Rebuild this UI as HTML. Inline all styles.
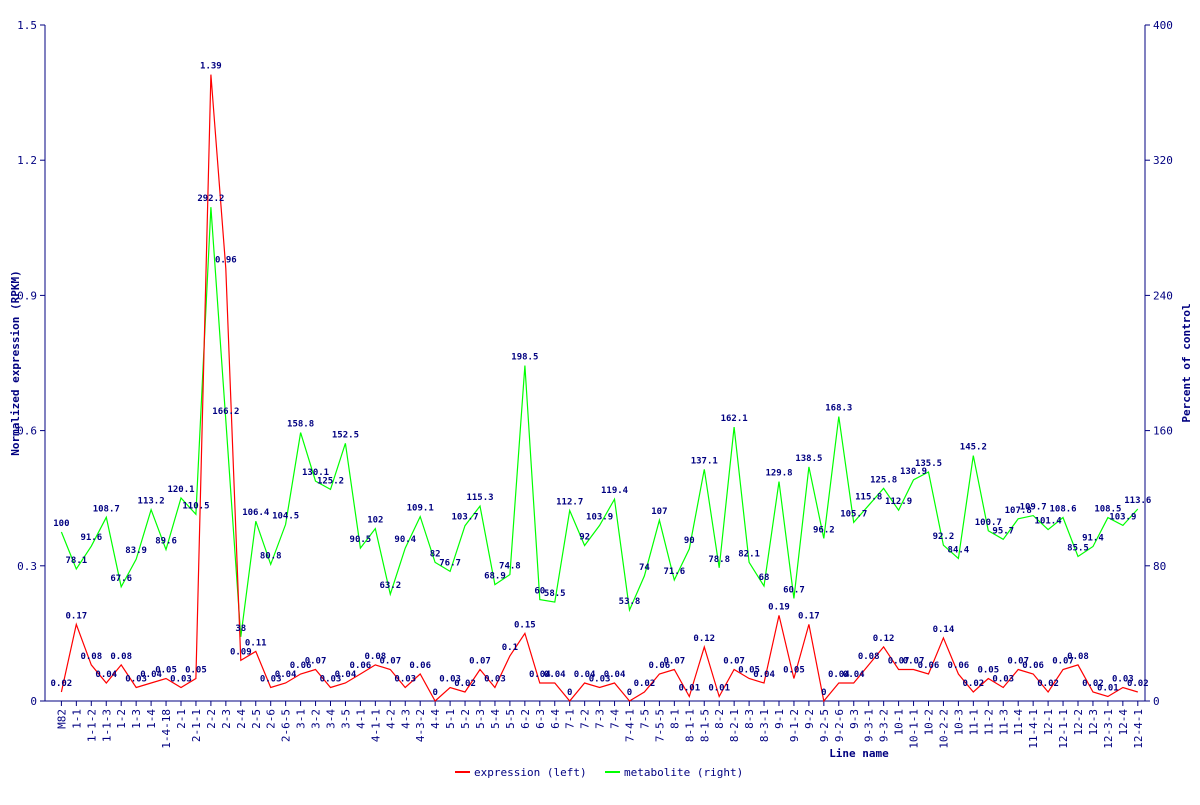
<!DOCTYPE html>
<html><head><meta charset="utf-8"><style>
body{margin:0;background:#fff}
svg text{font-family:"DejaVu Sans Mono","Liberation Mono",monospace;fill:#000080}
</style></head><body>
<svg id="s" width="1200" height="800" xmlns="http://www.w3.org/2000/svg"></svg>
<script>
const L="M82,1-1,1-1-2,1-1-3,1-2,1-3,1-4,1-4-18,2-1,2-1-1,2-2,2-3,2-4,2-5,2-6,2-6-5,3-1,3-2,3-4,3-5,4-1,4-1-1,4-2,4-3,4-3-2,4-4,5-1,5-2,5-3,5-4,5-5,6-2,6-3,6-4,7-1,7-2,7-3,7-4,7-4-1,7-5,7-5-5,8-1,8-1-1,8-1-5,8-2,8-2-1,8-3,8-3-1,9-1,9-1-2,9-2,9-2-5,9-2-6,9-3,9-3-1,9-3-2,10-1,10-1-1,10-2,10-2-2,10-3,11-1,11-2,11-3,11-4,11-4-1,12-1,12-1-1,12-2,12-3,12-3-1,12-4,12-4-1".split(",");
const G=[100,78.1,91.6,108.7,67.6,83.9,113.2,89.6,120.1,110.5,292.2,166.2,38,106.4,80.8,104.5,158.8,130.1,125.2,152.5,90.5,102,63.2,90.4,109.1,82,76.7,103.7,115.3,68.9,74.8,198.5,60,58.5,112.7,92,103.9,119.4,53.8,74,107,71.6,90,137.1,78.8,162.1,82.1,68,129.8,60.7,138.5,96.2,168.3,105.7,115.8,125.8,112.9,130.9,135.5,92.2,84.4,145.2,100.7,95.7,107.8,109.7,101.4,108.6,85.5,91.4,108.5,103.9,113.6];
const R=[0.02,0.17,0.08,0.04,0.08,0.03,0.04,0.05,0.03,0.05,1.39,0.96,0.09,0.11,0.03,0.04,0.06,0.07,0.03,0.04,0.06,0.08,0.07,0.03,0.06,0,0.03,0.02,0.07,0.03,0.1,0.15,0.04,0.04,0,0.04,0.03,0.04,0,0.02,0.06,0.07,0.01,0.12,0.01,0.07,0.05,0.04,0.19,0.05,0.17,0,0.04,0.04,0.08,0.12,0.07,0.07,0.06,0.14,0.06,0.02,0.05,0.03,0.07,0.06,0.02,0.07,0.08,0.02,0.01,0.03,0.02];
const X=i=>61.4+14.95*i, B=701, H=676;
let s='';
const ln=(a,b,c,d,col,w)=>s+=`<line x1="${a}" y1="${b}" x2="${c}" y2="${d}" stroke="${col}" stroke-width="${w||1}"/>`;
ln(45,25,45,B,'#000080');ln(1145,25,1145,B,'#000080');ln(45,B,1145,B,'#000080');
for(let k=0;k<=5;k++){let y=B-k*H/5;ln(40,y,45,y,'#000080');ln(1145,y,1150,y,'#000080');
s+=`<text x="37" y="${y+4}" font-size="11" text-anchor="end">${k==0?'0':(k*0.3).toFixed(1)}</text>`;
s+=`<text x="1153" y="${y+4}" font-size="11">${k*80}</text>`;}
L.forEach((l,i)=>{let x=X(i);ln(x,B,x,B+5,'#000080');
s+=`<text transform="translate(${x+4},${B+8}) rotate(-90)" font-size="11" text-anchor="end">${l}</text>`;});
let pg=G.map((v,i)=>X(i).toFixed(1)+','+(B-v/400*H).toFixed(1)).join(' ');
let pr=R.map((v,i)=>X(i).toFixed(1)+','+(B-v/1.5*H).toFixed(1)).join(' ');
s+=`<polyline points="${pg}" fill="none" stroke="#00ff00" stroke-width="1.2"/>`;
s+=`<polyline points="${pr}" fill="none" stroke="#ff0000" stroke-width="1.2"/>`;
G.forEach((v,i)=>s+=`<text x="${X(i)}" y="${B-v/400*H-6}" font-size="9" font-weight="bold" text-anchor="middle">${v}</text>`);
R.forEach((v,i)=>s+=`<text x="${X(i)}" y="${B-v/1.5*H-6}" font-size="9" font-weight="bold" text-anchor="middle">${v}</text>`);
s+=`<text transform="translate(19,363) rotate(-90)" font-size="11" font-weight="bold" text-anchor="middle">Normalized expression (RPKM)</text>`;
s+=`<text transform="translate(1190,363) rotate(-90)" font-size="11" font-weight="bold" text-anchor="middle">Percent of control</text>`;
s+=`<text x="859" y="757" font-size="11" font-weight="bold" text-anchor="middle">Line name</text>`;
ln(455,772,470,772,'#ff0000',2);s+=`<text x="474" y="776" font-size="11">expression (left)</text>`;
ln(605,772,620,772,'#00ff00',2);s+=`<text x="624" y="776" font-size="11">metabolite (right)</text>`;
document.getElementById('s').innerHTML=s;
</script>
</body></html>
